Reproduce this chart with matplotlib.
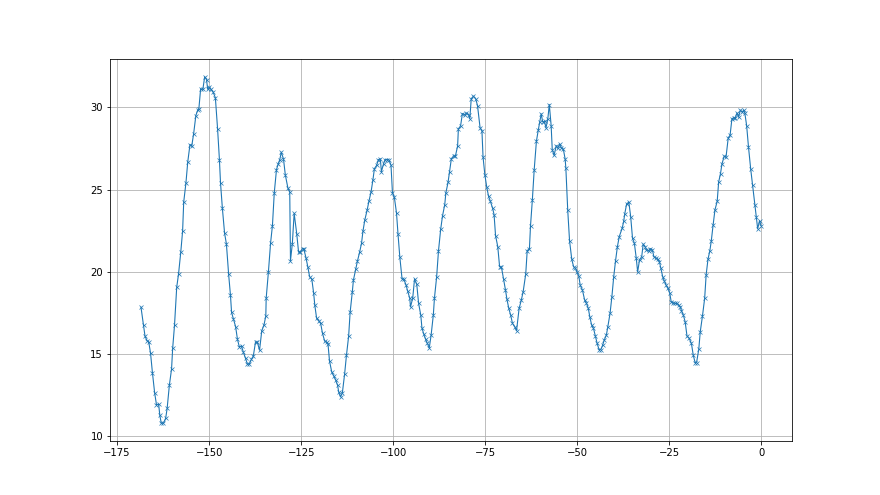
import matplotlib
matplotlib.use("Agg")
import matplotlib.pyplot as plt

# x positions
x = [-168.5, -167.8, -167.4, -166.8, -166.4, -165.9, -165.4, -164.8, -164.3, -163.7,
     -163.4, -163.0, -162.4, -161.8, -161.4, -160.8, -160.2, -159.9, -159.4, -158.8,
     -158.3, -157.7, -157.2, -156.9, -156.3, -155.8, -155.2, -154.7, -154.2, -153.6,
     -153.1, -152.8, -152.3, -151.7, -151.2, -150.7, -150.4, -150.0, -149.5, -148.9,
     -148.3, -147.7, -147.2, -146.9, -146.4, -145.8, -145.3, -144.7, -144.2, -143.9,
     -143.4, -142.8, -142.3, -141.8, -141.2, -140.7, -140.1, -139.6, -139.1, -138.5,
     -138.0, -137.4, -136.9, -136.3,
     -135.7, -135.1, -134.6, -134.5, -133.9, -133.3, -132.8, -132.3, -131.7, -131.2,
     -130.8, -130.4, -129.8, -129.3, -128.6, -128.1, -127.9, -127.4, -126.9, -126.2,
     -125.7, -125.2, -124.6, -124.3, -123.7, -123.2, -122.7, -122.1, -121.6, -121.3,
     -120.8, -120.2, -119.7, -119.2, -118.6, -118.1, -117.7, -117.3, -116.7, -116.2,
     -115.6, -115.1, -114.8, -114.3, -113.8, -113.2, -112.7, -112.1, -111.7, -111.1,
     -110.8, -110.2, -109.7, -109.1, -108.6, -108.2, -107.7, -107.1, -106.6, -106.0,
     -105.5, -105.1, -104.5, -104.0,
     -103.5, -103.2, -102.6, -102.2, -101.6, -101.2, -100.6, -100.2, -99.7, -99.1,
     -98.7, -98.2, -97.6, -97.1, -96.5, -96.1, -95.5, -95.3, -94.7, -94.2,
     -93.6, -93.1, -92.5, -92.2, -91.7, -91.2, -90.7, -90.2, -89.7, -89.1,
     -88.8, -88.2, -87.7, -87.1, -86.6, -86.0, -85.7, -85.1, -84.7, -84.2,
     -83.6, -83.1, -82.5, -82.3, -81.7, -81.2, -80.6, -80.1, -79.5, -79.2,
     -78.8, -78.2, -77.6, -77.1, -76.4, -75.9, -75.6, -75.1, -74.6, -74.1,
     -73.6, -73.0, -72.6, -72.2, -71.6, -71.1,
     -70.6, -70.0, -69.5, -69.1, -68.6, -68.1, -67.6, -67.0, -66.5, -65.8,
     -65.2, -64.7, -64.0, -63.6, -63.0, -62.7, -62.2, -61.7, -61.1, -60.6,
     -60.2, -59.8, -59.4, -58.9, -58.5, -58.0, -57.6, -57.1, -56.8, -56.3,
     -55.7, -55.3, -54.8, -54.3, -53.8, -53.3, -53.1, -52.6, -52.1, -51.5,
     -51.0, -50.5, -50.1, -49.6, -49.2, -48.6, -48.0, -47.5, -47.0, -46.6,
     -46.1, -45.6, -45.1, -44.6, -44.1, -43.6, -43.1, -42.7, -42.1, -41.7,
     -41.1, -40.6, -40.1, -39.6, -39.1, -38.6,
     -37.8, -37.4, -37.1, -36.6, -36.0, -35.5, -35.0, -34.5, -34.0, -33.6,
     -33.1, -32.5, -32.1, -31.6, -31.2, -30.6, -30.2, -29.6, -29.2, -28.6,
     -28.2, -27.7, -27.3, -26.8, -26.4, -25.9, -25.4, -24.9, -24.5, -24.0,
     -23.5, -23.0, -22.5, -22.0, -21.7, -21.2, -20.7, -20.2, -19.6, -19.0,
     -18.5, -18.0, -17.6, -17.0, -16.6, -16.0, -15.4, -15.0, -14.5, -14.0,
     -13.6, -13.1, -12.6, -12.0, -11.6, -11.1, -10.7, -10.1, -9.6, -9.0,
     -8.5, -8.0, -7.5, -7.1, -6.6, -6.2, -5.7, -5.2, -4.8, -4.5,
     -4.0, -3.5, -2.9, -2.4, -1.8, -1.4, -1.0, -0.5, -0.1]

y = [17.85, 16.75, 16.08, 15.80, 15.75, 15.04, 13.88, 12.66, 11.93, 11.95,
     11.30, 10.80, 10.80, 11.10, 11.70, 13.10, 14.10, 15.35, 16.75, 19.07,
     19.88, 21.20, 22.48, 24.25, 25.40, 26.69, 27.74, 27.68, 28.41, 29.51,
     29.84, 29.88, 31.14, 31.10, 31.87, 31.70, 31.12, 31.24, 31.10, 30.93,
     30.59, 28.70, 26.83, 25.40, 23.88, 22.36, 21.70, 19.86, 18.58, 17.54,
     17.15, 16.67, 15.90, 15.45, 15.49, 15.12, 14.74, 14.39, 14.39, 14.68,
     14.88, 15.73, 15.73, 15.24,
     16.42, 16.77, 17.32, 18.40, 19.98, 21.77, 22.82, 24.82, 26.22, 26.59,
     26.83, 27.28, 26.87, 25.90, 25.10, 24.86, 20.69, 21.71, 23.56, 22.32,
     21.20, 21.24, 21.42, 21.42, 20.87, 20.32, 19.71, 19.55, 18.70, 17.99,
     17.18, 17.01, 16.87, 16.26, 15.79, 15.71, 15.59, 14.59, 13.92, 13.70,
     13.41, 13.11, 12.70, 12.40, 12.66, 13.78, 14.92, 16.10, 17.54, 18.80,
     19.51, 20.16, 20.67, 21.22, 21.75, 22.50, 23.17, 23.74, 24.29, 24.88,
     25.61, 26.28, 26.48, 26.83,
     26.87, 26.10, 26.59, 26.83, 26.83, 26.83, 26.50, 24.80, 24.56, 23.58,
     22.32, 20.90, 19.59, 19.55, 19.20, 18.86, 18.40, 17.87, 18.41, 19.57,
     19.25, 18.09, 17.36, 16.60, 16.22, 15.91, 15.65, 15.38, 16.16, 17.38,
     18.40, 19.70, 21.28, 22.60, 23.41, 24.09, 24.80, 25.45, 26.08, 26.89,
     27.05, 27.05, 27.66, 28.70, 28.88, 29.63, 29.55, 29.67, 29.57, 29.31,
     30.53, 30.69, 30.53, 30.12, 28.76, 28.60, 27.00, 25.90, 25.17, 24.60,
     24.29, 23.88, 23.48, 22.21, 21.54, 20.32,
     20.29, 19.55, 18.90, 18.33, 17.78, 17.38, 16.87, 16.67, 16.42, 17.78,
     18.29, 18.80, 19.88, 21.30, 21.40, 22.82, 24.39, 26.22, 27.95, 28.62,
     29.10, 29.61, 29.13, 29.15, 28.76, 29.31, 30.18, 28.90, 27.44, 27.09,
     27.68, 27.52, 27.78, 27.54, 27.48, 26.87, 26.30, 23.78, 21.89, 20.77,
     20.32, 20.22, 20.02, 19.76, 19.19, 18.90, 18.29, 18.09, 17.78, 17.27,
     16.77, 16.57, 16.10, 15.65, 15.28, 15.28, 15.55, 15.85, 16.16, 16.67,
     17.48, 18.50, 19.71, 20.69, 21.54, 22.15,
     22.66, 23.07, 23.54, 24.13, 24.25, 23.37, 22.05, 21.75, 20.87, 20.00,
     20.73, 20.93, 21.69, 21.54, 21.34, 21.28, 21.42, 21.34, 20.93, 20.83,
     20.77, 20.63, 20.22, 19.71, 19.47, 19.21, 19.00, 18.74, 18.19, 18.13,
     18.09, 18.09, 17.99, 17.85, 17.64, 17.38, 16.97, 16.10, 15.96, 15.65,
     14.94, 14.49, 14.49, 15.30, 16.36, 17.32, 18.40, 19.82, 20.77, 21.28,
     21.89, 22.87, 23.78, 24.29, 25.47, 25.98, 26.57, 27.03, 26.99, 28.15,
     28.31, 29.31, 29.37, 29.37, 29.67, 29.41, 29.84, 29.72, 29.84, 29.67,
     28.90, 27.60, 26.26, 25.29, 24.07, 23.34, 22.62, 23.11, 22.82]

# drawn at 72 dpi, so fonts and lines come out small like the original
fig = plt.figure(figsize=(880 / 72, 495 / 72), dpi=72)
ax = fig.add_subplot(111)

ax.plot(x, y, marker='x', markersize=4.5, markeredgewidth=0.7, linewidth=1.1)
ax.grid(True)

fig.savefig("out.png")
